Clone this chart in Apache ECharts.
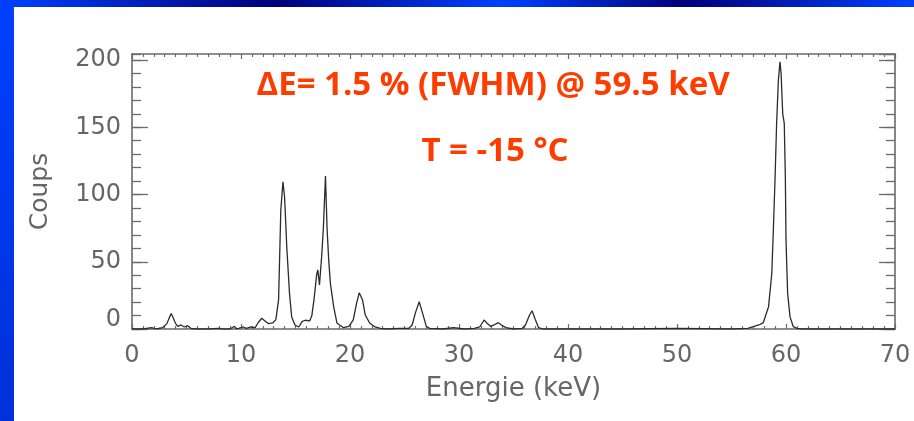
<!DOCTYPE html>
<html><head><meta charset="utf-8">
<script src="https://cdn.jsdelivr.net/npm/echarts@6/dist/echarts.min.js"></script>
<style>html,body{margin:0;padding:0;background:#fff}#c{width:914px;height:421px}</style>
</head><body><div id="c"></div>
<script>
// ---- data ----
const energy = [0, 1.0, 1.8, 2.2, 2.8, 3.2, 3.45, 3.6, 3.8, 4.0, 4.2, 4.5, 4.8, 5.1, 5.4, 5.8, 7.0, 8.0, 8.3, 9.0, 9.4, 9.6, 10.2, 10.5, 10.9, 11.3, 11.6, 11.9, 12.2, 12.5, 12.9, 13.2, 13.45, 13.65, 13.85, 14.0, 14.2, 14.45, 14.65, 14.95, 15.3, 15.6, 15.9, 16.3, 16.5, 16.7, 16.95, 17.05, 17.2, 17.4, 17.55, 17.75, 17.9, 18.05, 18.2, 18.5, 18.8, 19.4, 19.9, 20.3, 20.6, 20.85, 21.15, 21.4, 21.8, 22.3, 22.8, 23.5, 24.5, 25.4, 25.7, 26.0, 26.35, 26.65, 27.0, 27.3, 28.5, 29.5, 30.5, 31.4, 31.9, 32.3, 32.6, 32.9, 33.2, 33.6, 33.9, 34.3, 35.0, 35.8, 36.1, 36.45, 36.7, 37.0, 37.3, 37.7, 40.0, 45.0, 50.0, 55.0, 56.5, 57.0, 57.5, 57.9, 58.4, 58.7, 58.84, 59.0, 59.14, 59.3, 59.45, 59.55, 59.7, 59.84, 59.94, 60.0, 60.15, 60.37, 60.67, 61.0, 61.5, 70.0];
const counts = [0, 0, 1, 0, 1, 4, 9, 11.5, 8, 4, 2, 3, 1.5, 2.5, 0.5, 0, 0, 0.5, 0, 0, 2, 0, 1.5, 0.5, 1.5, 1, 5, 8, 6, 4, 4.5, 7, 22, 88, 109.5, 98, 61, 26.5, 9, 3, 1.5, 5.5, 6.5, 6, 10, 22, 41, 44, 32.7, 54, 74, 113.7, 74, 51, 34, 16.6, 4.5, 1, 2, 6.7, 19, 27, 21.5, 10.4, 4.5, 1.5, 0.5, 0, 0.5, 0.5, 3, 12, 20.3, 12, 2, 0.5, 0, 1, 0, 0.5, 1.5, 6.7, 4, 2, 3, 4.7, 3, 1, 0, 0.5, 3, 10, 13.6, 7, 1, 0, 0, 0, 0.5, 0, 0.5, 1.7, 3, 4.5, 16.6, 41.6, 73.6, 113, 153, 185, 198.7, 190, 160, 153, 113, 66, 26.5, 9, 1.7, 0.5, 0, 0];
const xRange = [0, 70];
const yRange = [0, 204.5];
const xMajorStep = 10;
const yMajorStep = 50;
const yMinorStep = 10;
const xName = 'Energie (keV)';
const yName = 'Coups';
const notes = ['ΔE= 1.5 % (FWHM) @ 59.5 keV', 'T = -15 °C'];

const points = energy.map((e, i) => [e, counts[i]]);

const frame = '#6a6a6a';
const labelColor = '#666666';
const labelFont = 'DejaVu Sans';

function xAx(pos, showLabel) {
  return {
    type: 'value', position: pos, min: xRange[0], max: xRange[1], interval: xMajorStep,
    axisLine: { show: true, onZero: false, lineStyle: { color: frame, width: 1.6 } },
    axisTick: { show: true, inside: true, length: 5, lineStyle: { color: frame, width: 1.2 } },
    minorTick: { show: true, splitNumber: 10, length: 3, lineStyle: { color: frame, width: 1.2 } },
    splitLine: { show: false },
    axisLabel: { show: showLabel, color: labelColor, fontFamily: labelFont, fontSize: 24, margin: 15 },
    name: showLabel ? xName : '', nameLocation: 'middle', nameGap: 47,
    nameTextStyle: { color: labelColor, fontFamily: labelFont, fontSize: 26 }
  };
}
function yAx(pos, major, showLabel) {
  return {
    type: 'value', position: pos, min: yRange[0], max: yRange[1],
    interval: major ? yMajorStep : yMinorStep,
    axisLine: { show: major, onZero: false, lineStyle: { color: frame, width: 1.6 } },
    axisTick: { show: true, inside: true, length: major ? 16 : 9, lineStyle: { color: frame, width: 1.3 } },
    splitLine: { show: false },
    axisLabel: {
      show: showLabel, color: labelColor, fontFamily: labelFont, fontSize: 24, margin: 11,
      showMaxLabel: false,
      formatter: v => v === 0 ? '{z|0}' : String(v),
      rich: { z: { color: labelColor, fontFamily: labelFont, fontSize: 24, padding: [0, 0, 18, 0] } }
    },
    name: showLabel ? yName : '', nameLocation: 'middle', nameGap: 79, nameRotate: 90,
    nameTextStyle: { color: labelColor, fontFamily: labelFont, fontSize: 25 }
  };
}

const chart = echarts.init(document.getElementById('c'), null, { renderer: 'canvas' });
chart.setOption({
  backgroundColor: '#ffffff',
  animation: false,
  grid: { left: 132, right: 19, top: 54, bottom: 92 },
  xAxis: [xAx('bottom', true), xAx('top', false)],
  yAxis: [yAx('left', true, true), yAx('left', false, false), yAx('right', true, false), yAx('right', false, false)],
  series: [{
    type: 'line', data: points, xAxisIndex: 0, yAxisIndex: 0,
    symbol: 'none', lineStyle: { color: '#2b2b2b', width: 1.3 }, z: 3
  }],
  graphic: [
    { type: 'rect', shape: { x: 0, y: 0, width: 14, height: 421 },
      style: { fill: new echarts.graphic.LinearGradient(0, 0, 0, 1, [
        { offset: 0, color: '#0040ff' }, { offset: 1, color: '#0030d8' }]) } },
    { type: 'rect', shape: { x: 0, y: 0, width: 914, height: 7 },
      style: { fill: new echarts.graphic.LinearGradient(0, 0, 1, 0, [
        { offset: 0, color: '#0040ff' }, { offset: 0.3, color: '#00007a' },
        { offset: 0.55, color: '#0040ff' }, { offset: 0.75, color: '#00007a' },
        { offset: 1, color: '#0040ff' }]) } },
    { type: 'text', x: 493, y: 86, style: { text: notes[0], fill: '#ff3c00', font: 'bold 33px "Open Sans"', align: 'center', verticalAlign: 'middle' } },
    { type: 'text', x: 495, y: 152, style: { text: notes[1], fill: '#ff3c00', font: 'bold 33px "Open Sans"', align: 'center', verticalAlign: 'middle' } }
  ]
});
</script></body></html>
